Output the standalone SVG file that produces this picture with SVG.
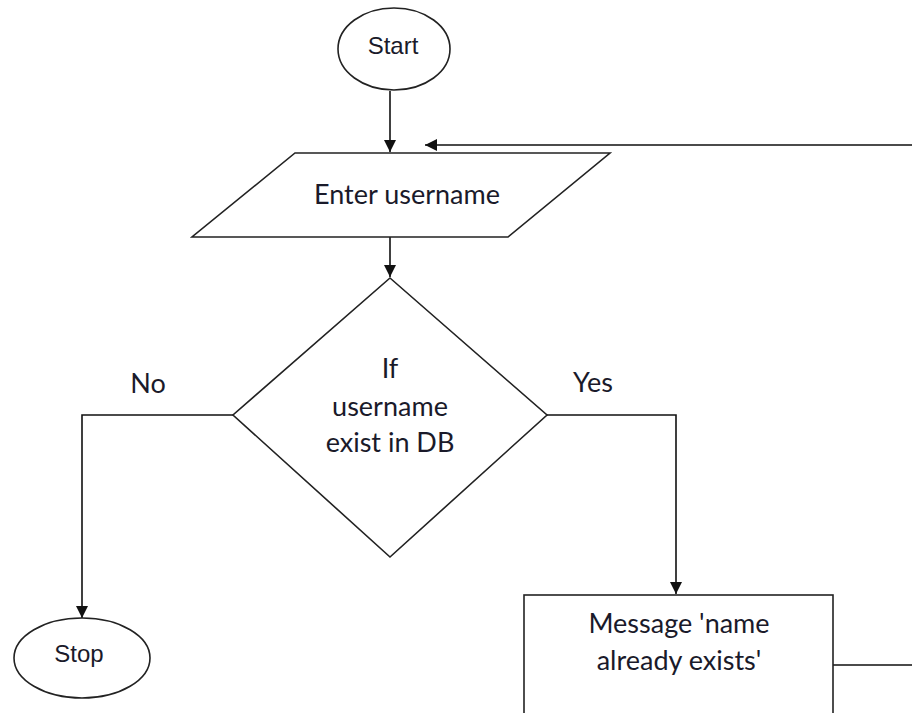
<svg xmlns="http://www.w3.org/2000/svg" width="912" height="713" viewBox="0 0 912 713">
  <style>
    .shape { fill: #ffffff; stroke: #222222; stroke-width: 1.6; }
    .conn { fill: none; stroke: #111111; stroke-width: 1.6; }
    .term { font-family: "Liberation Sans", Arial, sans-serif; font-size: 24px; fill: #1a1a2a; text-anchor: middle; }
    .lbl { font-family: Lato, "Open Sans", sans-serif; font-size: 27px; fill: #1a1a2a; text-anchor: middle; }
  </style>
  <defs>
    <marker id="arrow" viewBox="0 0 10 10" refX="10" refY="5" markerWidth="12" markerHeight="12" markerUnits="userSpaceOnUse" orient="auto">
      <path d="M0,0 L10,5 L0,10 Z" fill="#111111"/>
    </marker>
  </defs>
  <rect width="912" height="713" fill="#ffffff"/>

  <g id="connectors">
    <path class="conn" d="M390,91 V152" marker-end="url(#arrow)"/>
    <path class="conn" d="M390,237 V277" marker-end="url(#arrow)"/>
    <path class="conn" d="M233,415 H82 V618" marker-end="url(#arrow)"/>
    <path class="conn" d="M547,415 H676 V594" marker-end="url(#arrow)"/>
    <path class="conn" d="M833,665 H920 V145 H425" marker-end="url(#arrow)"/>
    <text class="lbl" x="148" y="393">No</text>
    <text class="lbl" x="593" y="392">Yes</text>
  </g>

  <g id="start">
    <ellipse class="shape" cx="394" cy="49" rx="56" ry="41"/>
    <text class="term" x="393" y="54">Start</text>
  </g>

  <g id="enter-username">
    <polygon class="shape" points="295,153 610,153 508,237 192,237"/>
    <text class="lbl" x="407" y="204">Enter username</text>
  </g>

  <g id="check-username">
    <polygon class="shape" points="390,278 547,415 390,557 233,415"/>
    <text class="lbl" x="390" y="378">If</text>
    <text class="lbl" x="390" y="416">username</text>
    <text class="lbl" x="390" y="452">exist in DB</text>
  </g>

  <g id="stop">
    <ellipse class="shape" cx="82" cy="658" rx="68" ry="40"/>
    <text class="term" x="79" y="662">Stop</text>
  </g>

  <g id="message">
    <rect class="shape" x="524" y="595" width="309" height="130"/>
    <text class="lbl" x="679" y="633">Message 'name</text>
    <text class="lbl" x="679" y="670">already exists'</text>
  </g>
</svg>
